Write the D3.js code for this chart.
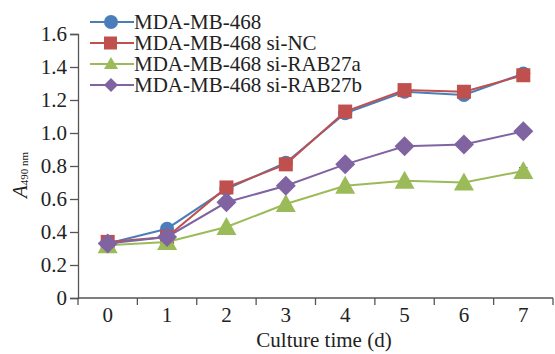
<!DOCTYPE html>
<html><head><meta charset="utf-8">
<script src="https://cdn.jsdelivr.net/npm/d3@7"></script>
<style>body{margin:0;background:#fff}</style>
</head><body><svg id="c" width="555" height="354"></svg>
<script>
const days = ["0","1","2","3","4","5","6","7"];
const seriesNames = ["MDA-MB-468","MDA-MB-468 si-NC","MDA-MB-468 si-RAB27a","MDA-MB-468 si-RAB27b"];
const valsParent = [0.33,0.42,0.66,0.82,1.12,1.25,1.23,1.36];
const valsNC     = [0.34,0.37,0.67,0.81,1.13,1.26,1.25,1.35];
const valsA      = [0.32,0.34,0.43,0.57,0.68,0.71,0.70,0.77];
const valsB      = [0.33,0.37,0.58,0.68,0.81,0.92,0.93,1.01];
const errParent  = [0.01,0.01,0.01,0.01,0.02,0.02,0.02,0.03];
const errNC      = [0.01,0.01,0.01,0.01,0.02,0.02,0.02,0.03];
const errA       = [0.01,0.01,0.01,0.01,0.01,0.01,0.01,0.02];
const errB       = [0.01,0.01,0.01,0.01,0.01,0.01,0.01,0.01];
const yTicks = [0,0.2,0.4,0.6,0.8,1.0,1.2,1.4,1.6];
const colors = ["#4A7EBB","#C0504D","#9BBB59","#8064A2"];
const shapes = ["circle","square","triangle","diamond"];
const series = [valsParent,valsNC,valsA,valsB].map((v,i)=>({name:seriesNames[i],vals:v,err:[errParent,errNC,errA,errB][i],color:colors[i],shape:shapes[i]}));

const FF = '"Liberation Serif", "Times New Roman", serif';
const FS = "21px";
const svg = d3.select("#c");
const L=78,R=553,T=34,B=298;
const x = d3.scaleBand().domain(days).range([L,R]);
const y = d3.scaleLinear().domain([0,1.6]).range([B,T]);

const ya = svg.append("g").attr("transform",`translate(${L},0)`)
  .call(d3.axisLeft(y).tickValues(yTicks).tickSize(8).tickPadding(3).tickFormat(d=>d===0?"0":d3.format(".1f")(d)));
const xa = svg.append("g").attr("transform",`translate(0,${B})`)
  .call(d3.axisBottom(x).tickSize(0).tickPadding(9));
xa.selectAll(".bt").data(d3.range(days.length+1)).enter().append("line")
  .attr("x1",i=>L+i*x.step()).attr("x2",i=>L+i*x.step()).attr("y1",0).attr("y2",7)
  .attr("stroke","#555").attr("stroke-width",1.3);
[ya,xa].forEach(g=>{g.attr("font-family",null);
  g.select(".domain").attr("stroke","#555").attr("stroke-width",1.3);
  g.selectAll(".tick line").attr("stroke","#555").attr("stroke-width",1.3);
  g.selectAll("text").style("font-size",FS).style("font-family",FF).attr("fill","#222");});
xa.select(".domain").attr("d",`M${L},0H${R}`);

svg.append("text").attr("x",324).attr("y",347).attr("text-anchor","middle").style("font-family",FF).style("font-size",FS).attr("fill","#222").text("Culture time (d)");
const yl = svg.append("text").attr("transform","translate(27,175) rotate(-90)").attr("text-anchor","middle").style("font-family",FF).style("font-size",FS).attr("fill","#222");
yl.append("tspan").style("font-style","italic").text("A");
yl.append("tspan").attr("dy",1).style("font-size","11px").text("490 nm");

const cx = i=>x(days[i])+x.bandwidth()/2;
function marker(g,shape,color,px,py){
  if(shape==="circle") g.append("circle").attr("cx",px).attr("cy",py).attr("r",7).attr("fill",color);
  else if(shape==="square") g.append("rect").attr("x",px-7).attr("y",py-7).attr("width",14).attr("height",14).attr("fill",color);
  else if(shape==="triangle") g.append("path").attr("d",`M${px},${py-10}L${px+10},${py+8}L${px-10},${py+8}Z`).attr("fill",color);
  else g.append("path").attr("d",`M${px},${py-10}L${px+10},${py}L${px},${py+10}L${px-10},${py}Z`).attr("fill",color);
}
series.forEach(s=>{
  const g = svg.append("g");
  g.selectAll(".eb").data(s.vals).enter().append("path")
    .attr("d",(v,i)=>{const a=y(v+s.err[i]),b=y(v-s.err[i]),c=cx(i);return `M${c-4},${a}H${c+4}M${c},${a}V${b}M${c-4},${b}H${c+4}`;})
    .attr("stroke","#222").attr("stroke-width",1.2).attr("fill","none");
  g.append("path").datum(s.vals).attr("fill","none").attr("stroke",s.color).attr("stroke-width",2)
    .attr("d",d3.line().x((v,i)=>cx(i)).y(v=>y(v)));
  s.vals.forEach((v,i)=>marker(g,s.shape,s.color,cx(i),y(v)));
});

series.forEach((s,i)=>{
  const ly = 22+i*21;
  const g = svg.append("g");
  g.append("line").attr("x1",90).attr("x2",134).attr("y1",ly).attr("y2",ly).attr("stroke",s.color).attr("stroke-width",2);
  if(s.shape==="circle") g.append("circle").attr("cx",111).attr("cy",ly).attr("r",7).attr("fill",s.color);
  else if(s.shape==="square") g.append("rect").attr("x",104).attr("y",ly-6.5).attr("width",13).attr("height",13).attr("fill",s.color);
  else if(s.shape==="triangle") g.append("path").attr("d",`M111,${ly-7}L118,${ly+5}L104,${ly+5}Z`).attr("fill",s.color);
  else g.append("path").attr("d",`M111,${ly-7}L118,${ly}L111,${ly+7}L104,${ly}Z`).attr("fill",s.color);
  g.append("text").attr("x",134).attr("y",ly+7).style("font-family",FF).style("font-size",FS).attr("fill","#222").text(s.name);
});
</script></body></html>
